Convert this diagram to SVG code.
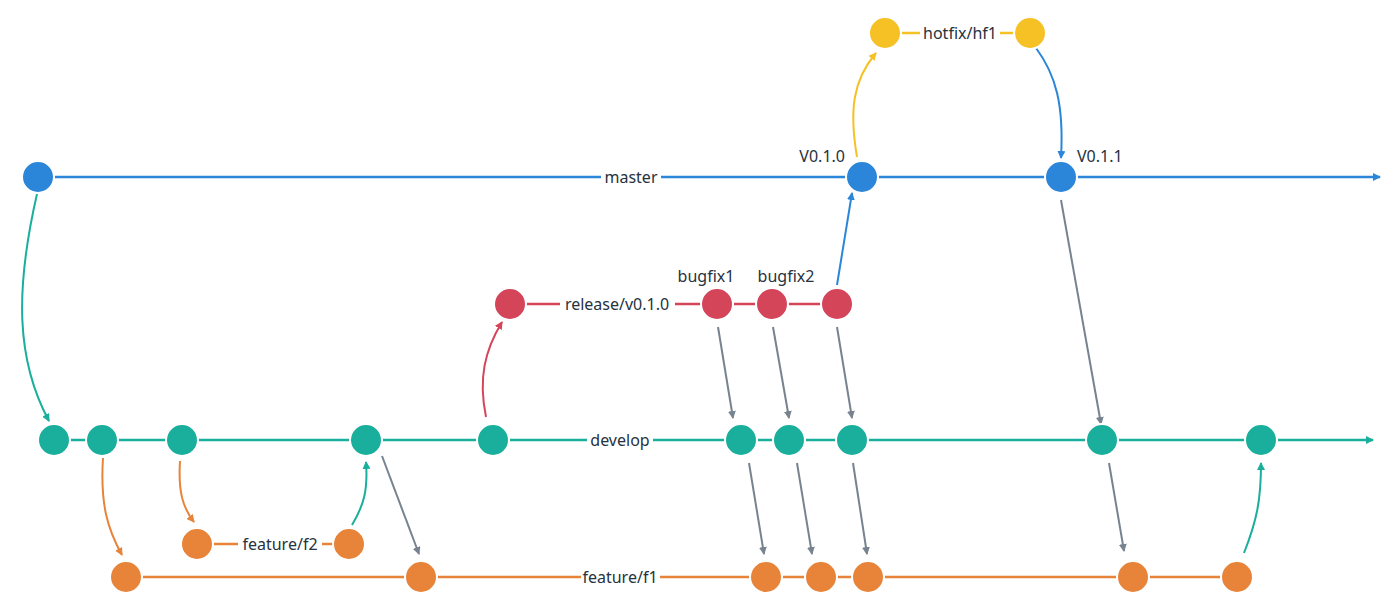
<svg xmlns="http://www.w3.org/2000/svg" width="1400" height="609" viewBox="0 0 1400 609">
<style>
.t{font-family:"Noto Sans","DejaVu Sans",sans-serif;font-size:16px;fill:#26323e}
.m{text-anchor:middle;dominant-baseline:central}
.b{fill:none;stroke-width:2.5}
.c{fill:none;stroke-width:2}
.n circle{stroke:#fff;stroke-width:2}
.blue{stroke:#2b86d9}.teal{stroke:#1aaf9c}.orange{stroke:#e8843a}.red{stroke:#d4455a}.yellow{stroke:#f5c124}.grey{stroke:#77838f}
</style>
<defs>
<marker id="ab" viewBox="0 0 8 8" refX="7" refY="4" markerWidth="8" markerHeight="8" markerUnits="userSpaceOnUse" orient="auto"><path d="M0,0 L8,4 L0,8 z" fill="#2b86d9"/></marker>
<marker id="at" viewBox="0 0 8 8" refX="7" refY="4" markerWidth="8" markerHeight="8" markerUnits="userSpaceOnUse" orient="auto"><path d="M0,0 L8,4 L0,8 z" fill="#1aaf9c"/></marker>
<marker id="ao" viewBox="0 0 8 8" refX="7" refY="4" markerWidth="8" markerHeight="8" markerUnits="userSpaceOnUse" orient="auto"><path d="M0,0 L8,4 L0,8 z" fill="#e8843a"/></marker>
<marker id="ar" viewBox="0 0 8 8" refX="7" refY="4" markerWidth="8" markerHeight="8" markerUnits="userSpaceOnUse" orient="auto"><path d="M0,0 L8,4 L0,8 z" fill="#d4455a"/></marker>
<marker id="ay" viewBox="0 0 8 8" refX="7" refY="4" markerWidth="8" markerHeight="8" markerUnits="userSpaceOnUse" orient="auto"><path d="M0,0 L8,4 L0,8 z" fill="#f5c124"/></marker>
<marker id="ag" viewBox="0 0 8 8" refX="7" refY="4" markerWidth="8" markerHeight="8" markerUnits="userSpaceOnUse" orient="auto"><path d="M0,0 L8,4 L0,8 z" fill="#77838f"/></marker>
</defs>
<rect width="1400" height="609" fill="#fff"/>
<g id="branches">
<line class="b blue" x1="38" y1="177" x2="601" y2="177"/>
<line class="b blue" x1="661" y1="177" x2="1380" y2="177" marker-end="url(#ab)"/>
<line class="b teal" x1="54" y1="440" x2="587" y2="440"/>
<line class="b teal" x1="653" y1="440" x2="1373" y2="440" marker-end="url(#at)"/>
<line class="b red" x1="510" y1="304" x2="560" y2="304"/>
<line class="b red" x1="675" y1="304" x2="837" y2="304"/>
<line class="b yellow" x1="885" y1="33" x2="920" y2="33"/>
<line class="b yellow" x1="1000" y1="33" x2="1030" y2="33"/>
<line class="b orange" x1="197" y1="544" x2="238" y2="544"/>
<line class="b orange" x1="322" y1="544" x2="349" y2="544"/>
<line class="b orange" x1="126" y1="577" x2="581" y2="577"/>
<line class="b orange" x1="660" y1="577" x2="1237" y2="577"/>
</g>
<g id="connectors">
<path class="c teal" d="M37,194 C15,290 16,360 49,421" marker-end="url(#at)"/>
<path class="c orange" d="M103,458 C100,505 108,530 122,555" marker-end="url(#ao)"/>
<path class="c orange" d="M180,461 C178,492 183,508 194,522" marker-end="url(#ao)"/>
<path class="c teal" d="M352,525 C364,505 368,490 366,462" marker-end="url(#at)"/>
<line class="c grey" x1="382" y1="456" x2="419" y2="554" marker-end="url(#ag)"/>
<path class="c red" d="M486,417 C478,378 485,350 502,322" marker-end="url(#ar)"/>
<line class="c grey" x1="718" y1="327" x2="733" y2="418" marker-end="url(#ag)"/>
<line class="c grey" x1="773" y1="327" x2="789" y2="418" marker-end="url(#ag)"/>
<line class="c grey" x1="837" y1="327" x2="852" y2="418" marker-end="url(#ag)"/>
<line class="c blue" x1="837" y1="285" x2="852" y2="193" marker-end="url(#ab)"/>
<path class="c yellow" d="M857,157 C849,110 853,80 876,53" marker-end="url(#ay)"/>
<path class="c blue" d="M1036,48 C1056,75 1064,105 1061,158" marker-end="url(#ab)"/>
<line class="c grey" x1="1061" y1="200" x2="1101" y2="424" marker-end="url(#ag)"/>
<line class="c grey" x1="749" y1="463" x2="764" y2="554" marker-end="url(#ag)"/>
<line class="c grey" x1="797" y1="463" x2="812" y2="554" marker-end="url(#ag)"/>
<line class="c grey" x1="853" y1="463" x2="867" y2="554" marker-end="url(#ag)"/>
<line class="c grey" x1="1109" y1="463" x2="1124" y2="551" marker-end="url(#ag)"/>
<path class="c teal" d="M1244,553 C1257,520 1261,500 1261,463" marker-end="url(#at)"/>
</g>
<g id="master" class="n">
<circle cx="38" cy="177" r="16" fill="#2b86d9"/>
<circle cx="862" cy="177" r="16" fill="#2b86d9"/>
<circle cx="1061" cy="177" r="16" fill="#2b86d9"/>
<text class="t m" x="631" y="177">master</text>
<text class="t" x="845" y="162" text-anchor="end">V0.1.0</text>
<text class="t" x="1077" y="162">V0.1.1</text>
</g>
<g id="hotfix" class="n">
<circle cx="885" cy="33" r="16" fill="#f5c124"/>
<circle cx="1030" cy="33" r="16" fill="#f5c124"/>
<text class="t m" x="960" y="33">hotfix/hf1</text>
</g>
<g id="release" class="n">
<circle cx="510" cy="304" r="16" fill="#d4455a"/>
<circle cx="717" cy="304" r="16" fill="#d4455a"/>
<circle cx="772" cy="304" r="16" fill="#d4455a"/>
<circle cx="837" cy="304" r="16" fill="#d4455a"/>
<text class="t m" x="617" y="304">release/v0.1.0</text>
<text class="t" x="706" y="282" text-anchor="middle">bugfix1</text>
<text class="t" x="786" y="282" text-anchor="middle">bugfix2</text>
</g>
<g id="develop" class="n">
<circle cx="54" cy="440" r="16" fill="#1aaf9c"/>
<circle cx="102" cy="440" r="16" fill="#1aaf9c"/>
<circle cx="182" cy="440" r="16" fill="#1aaf9c"/>
<circle cx="366" cy="440" r="16" fill="#1aaf9c"/>
<circle cx="493" cy="440" r="16" fill="#1aaf9c"/>
<circle cx="741" cy="440" r="16" fill="#1aaf9c"/>
<circle cx="789" cy="440" r="16" fill="#1aaf9c"/>
<circle cx="852" cy="440" r="16" fill="#1aaf9c"/>
<circle cx="1102" cy="440" r="16" fill="#1aaf9c"/>
<circle cx="1261" cy="440" r="16" fill="#1aaf9c"/>
<text class="t m" x="620" y="440">develop</text>
</g>
<g id="feature-f2" class="n">
<circle cx="197" cy="544" r="16" fill="#e8843a"/>
<circle cx="349" cy="544" r="16" fill="#e8843a"/>
<text class="t m" x="280" y="544">feature/f2</text>
</g>
<g id="feature-f1" class="n">
<circle cx="126" cy="577" r="16" fill="#e8843a"/>
<circle cx="421" cy="577" r="16" fill="#e8843a"/>
<circle cx="766" cy="577" r="16" fill="#e8843a"/>
<circle cx="821" cy="577" r="16" fill="#e8843a"/>
<circle cx="868" cy="577" r="16" fill="#e8843a"/>
<circle cx="1133" cy="577" r="16" fill="#e8843a"/>
<circle cx="1237" cy="577" r="16" fill="#e8843a"/>
<text class="t m" x="620" y="577">feature/f1</text>
</g>
</svg>
